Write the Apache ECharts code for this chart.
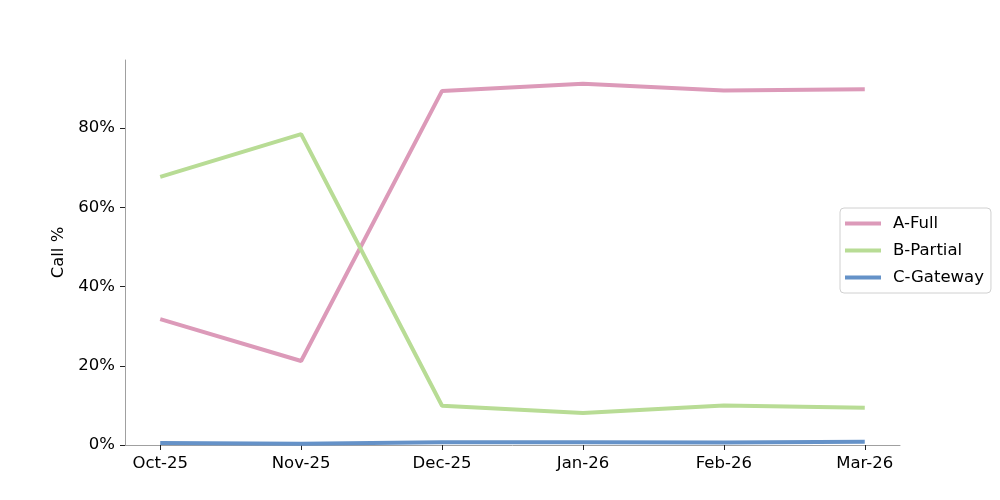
<!DOCTYPE html>
<html><head><meta charset="utf-8">
<script src="https://cdn.jsdelivr.net/npm/echarts@6/dist/echarts.min.js"></script>
<style>html,body{margin:0;padding:0;background:#fff}#c{width:1000px;height:500px}</style>
</head><body><div id="c"></div>
<script>
const categories = ['Oct-25','Nov-25','Dec-25','Jan-26','Feb-26','Mar-26'];
const aFull = [31.8, 21.2, 89.4, 91.2, 89.5, 89.8];
const bPartial = [67.7, 78.5, 9.9, 8.1, 10.0, 9.4];
const cGateway = [0.5, 0.3, 0.7, 0.7, 0.6, 0.8];
const yTicks = [0, 20, 40, 60, 80];
const seriesNames = ['A-Full','B-Partial','C-Gateway'];
const colors = ['#dc9ab9','#b8dc95','#6592c8'];

const toPts = arr => arr.map((v,i)=>[i,v]);
const font = 'DejaVu Sans';
const fs = 16.5;
const chart = echarts.init(document.getElementById('c'), null, {renderer:'canvas'});
chart.setOption({
  animation:false,
  textStyle:{fontFamily:font},
  grid:{left:125, right:100, top:60, bottom:55},
  xAxis:{
    type:'value', min:-0.25, max:5.25,
    axisLine:{show:true, onZero:false, lineStyle:{color:'#a0a0a0', width:1}},
    axisTick:{show:true, length:5, lineStyle:{color:'#222'}, customValues:categories.map((c,i)=>i)},
    axisLabel:{color:'#000', fontSize:fs, fontFamily:font, margin:10,
      customValues:categories.map((c,i)=>i), formatter:v=>categories[Math.round(v)]},
    splitLine:{show:false}
  },
  yAxis:{
    type:'value', min:0, max:97.2,
    name:'Call %', nameLocation:'middle', nameGap:58, nameRotate:90,
    nameTextStyle:{color:'#000', fontSize:fs, fontFamily:font},
    axisLine:{show:true, onZero:false, lineStyle:{color:'#a0a0a0', width:1}},
    axisTick:{show:true, length:5, lineStyle:{color:'#222'}, customValues:yTicks},
    axisLabel:{color:'#000', fontSize:fs, fontFamily:font, margin:10,
      customValues:yTicks, formatter:v=>v+'%'},
    splitLine:{show:false}
  },
  legend:{
    orient:'vertical', left:840, top:208,
    data:seriesNames,
    icon:'rect', itemWidth:36, itemHeight:4, itemGap:10,
    textStyle:{color:'#000', fontSize:fs, fontFamily:font, padding:[0,0,0,7]},
    borderColor:'#d0d0d0', borderWidth:1, borderRadius:4,
    padding:[7,7,7,5], backgroundColor:'#fff'
  },
  series:[aFull,bPartial,cGateway].map((d,i)=>({
    name:seriesNames[i], type:'line', data:toPts(d),
    showSymbol:false, symbol:'none',
    lineStyle:{color:colors[i], width:4}, itemStyle:{color:colors[i]},
    z: 3
  }))
});
</script></body></html>
